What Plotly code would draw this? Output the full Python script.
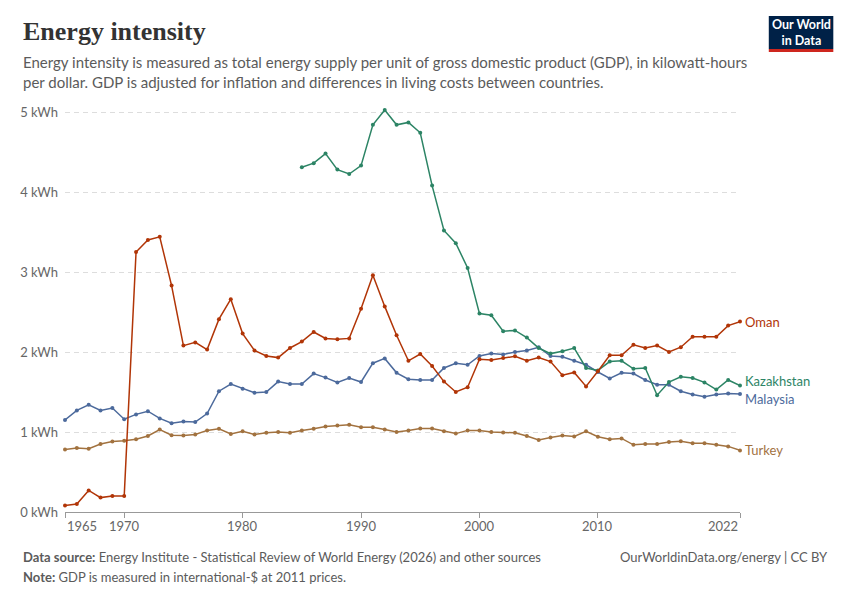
import plotly.graph_objects as go

# Energy intensity, kWh per dollar
years = list(range(1965, 2023))
kaz_years = list(range(1985, 2023))

oman = [0.08, 0.10, 0.27, 0.18, 0.20, 0.20, 3.25, 3.40, 3.44, 2.83,
        2.08, 2.12, 2.03, 2.41, 2.66, 2.23, 2.02, 1.95, 1.93, 2.05,
        2.13, 2.25, 2.17, 2.16, 2.17, 2.54, 2.96, 2.57, 2.21, 1.89,
        1.975, 1.825, 1.63, 1.50, 1.56, 1.91, 1.90, 1.925, 1.946, 1.89,
        1.93, 1.88, 1.71, 1.745, 1.57, 1.76, 1.96, 1.96, 2.09, 2.05,
        2.08, 2.00, 2.06, 2.19, 2.19, 2.19, 2.33, 2.38]
malaysia = [1.15, 1.27, 1.34, 1.27, 1.30, 1.16, 1.22, 1.26, 1.17, 1.11,
            1.13, 1.125, 1.23, 1.51, 1.60, 1.54, 1.49, 1.50, 1.63, 1.60,
            1.60, 1.73, 1.68, 1.62, 1.675, 1.625, 1.86, 1.92, 1.74, 1.66,
            1.65, 1.65, 1.80, 1.86, 1.84, 1.95, 1.98, 1.97, 2.00, 2.02,
            2.06, 1.95, 1.94, 1.89, 1.84, 1.75, 1.67, 1.74, 1.73, 1.65,
            1.59, 1.59, 1.51, 1.47, 1.44, 1.47, 1.48, 1.475]
turkey = [0.78, 0.80, 0.79, 0.85, 0.88, 0.89, 0.91, 0.95, 1.03, 0.96,
          0.955, 0.97, 1.02, 1.04, 0.975, 1.01, 0.97, 0.99, 1.00, 0.99,
          1.02, 1.04, 1.07, 1.08, 1.09, 1.06, 1.06, 1.03, 1.00, 1.02,
          1.045, 1.045, 1.01, 0.98, 1.02, 1.02, 1.00, 0.995, 0.99, 0.95,
          0.90, 0.93, 0.955, 0.945, 1.01, 0.94, 0.91, 0.92, 0.84, 0.85,
          0.85, 0.875, 0.885, 0.86, 0.86, 0.84, 0.82, 0.77]
kazakhstan = [4.31, 4.36, 4.48, 4.28, 4.225, 4.33, 4.84, 5.025, 4.84, 4.87,
              4.74, 4.08, 3.52, 3.36, 3.05, 2.48, 2.46, 2.26, 2.27, 2.18,
              2.05, 1.98, 2.01, 2.05, 1.80, 1.77, 1.88, 1.89, 1.79, 1.80,
              1.46, 1.625, 1.69, 1.675, 1.62, 1.53, 1.65, 1.58]

y_ticks = [0, 1, 2, 3, 4, 5]
y_tick_text = ["0 kWh", "1 kWh", "2 kWh", "3 kWh", "4 kWh", "5 kWh"]
x_ticks = [1965, 1970, 1980, 1990, 2000, 2010, 2022]
x_tick_text = ["1965", "1970", "1980", "1990", "2000", "2010", "2022"]

# name, x, y, colour, label nudge (px)
series = [
    ("Turkey", years, turkey, "#A2723F", 0),
    ("Malaysia", years, malaysia, "#4C6A9C", -5),
    ("Kazakhstan", kaz_years, kazakhstan, "#2C8465", 5),
    ("Oman", years, oman, "#B13507", 0),
]

# the page body has an 8px margin, so lay things out in window pixels minus 8
OFF = 8
W, H = 850 - OFF, 600 - OFF
L, R, T, B = 60 - OFF, 740 - OFF, 104 - OFF, 512 - OFF


def px(x):
    return (x - OFF - L) / (R - L)


def py(y):
    return (B - (y - OFF)) / (B - T)


fig = go.Figure()
annotations = []

for name, xs, ys, color, nudge in series:
    fig.add_trace(go.Scatter(
        x=xs, y=ys, mode="lines+markers", name=name,
        line=dict(color=color, width=1.5),
        marker=dict(color=color, size=4),
        cliponaxis=False, showlegend=False
    ))
    annotations.append(dict(
        x=px(743), xref="paper", y=ys[-1], yref="y", yshift=nudge,
        text=name, showarrow=False, xanchor="left", yanchor="middle",
        font=dict(size=13, color=color)
    ))

# x tick labels (ends aligned to the ticks like the original)
for val, lab in zip(x_ticks, x_tick_text):
    anchor = "left" if val == x_ticks[0] else ("right" if val == x_ticks[-1] else "center")
    annotations.append(dict(
        x=val, xref="x", y=py(526), yref="paper", text=lab, showarrow=False,
        xanchor=anchor, yanchor="middle", font=dict(size=13, color="#666666")
    ))

# header
annotations.append(dict(
    x=px(16), xref="paper", y=py(32), yref="paper", text="<b>Energy intensity</b>",
    showarrow=False, xanchor="left", yanchor="middle",
    font=dict(family="Liberation Serif", size=26, color="#333333")
))
annotations.append(dict(
    x=px(16), xref="paper", y=py(51), yref="paper",
    text="Energy intensity is measured as total energy supply per unit of gross domestic product (GDP), in kilowatt-hours"
         "<br>per dollar. GDP is adjusted for inflation and differences in living costs between countries.",
    showarrow=False, xanchor="left", yanchor="top", align="left",
    font=dict(size=15, color="#5b5b5b")
))

# footer
annotations.append(dict(
    x=px(16), xref="paper", y=py(557), yref="paper",
    text="<b>Data source:</b> Energy Institute - Statistical Review of World Energy (2026) and other sources",
    showarrow=False, xanchor="left", yanchor="middle", font=dict(size=13, color="#5b5b5b")
))
annotations.append(dict(
    x=px(16), xref="paper", y=py(577), yref="paper",
    text="<b>Note:</b> GDP is measured in international-$ at 2011 prices.",
    showarrow=False, xanchor="left", yanchor="middle", font=dict(size=13, color="#5b5b5b")
))
annotations.append(dict(
    x=px(831), xref="paper", y=py(557), yref="paper",
    text="OurWorldinData.org/energy | CC BY",
    showarrow=False, xanchor="right", yanchor="middle", font=dict(size=13, color="#5b5b5b")
))

# logo
annotations.append(dict(
    x=px(801.5), xref="paper", y=py(33), yref="paper",
    text="<b>Our World<br>in Data</b>", showarrow=False,
    xanchor="center", yanchor="middle", align="center",
    font=dict(size=12.5, color="white")
))

shapes = [
    dict(type="rect", xref="paper", yref="paper", x0=px(769), x1=px(834),
         y0=py(49), y1=py(16), fillcolor="#002147", line=dict(width=0), layer="below"),
    dict(type="rect", xref="paper", yref="paper", x0=px(769), x1=px(834),
         y0=py(52), y1=py(49), fillcolor="#CE261E", line=dict(width=0), layer="below"),
]

fig.update_layout(
    width=W, height=H,
    margin=dict(l=L, r=W - R, t=T, b=H - B),
    paper_bgcolor="white", plot_bgcolor="white",
    font=dict(family="Lato", size=13, color="#666666"),
    annotations=annotations, shapes=shapes,
    xaxis=dict(
        range=[1965, 2022], tickvals=x_ticks, showticklabels=False,
        showgrid=False, zeroline=False, showline=True, linecolor="#999999",
        linewidth=1, ticks="outside", ticklen=5, tickcolor="#999999"
    ),
    yaxis=dict(
        range=[0, 5.1], tickvals=y_ticks, ticktext=y_tick_text,
        showgrid=True, gridcolor="#dddddd", griddash="5px,4px", gridwidth=1,
        zeroline=False, ticks="", ticklabelstandoff=6,
        tickfont=dict(size=13, color="#666666")
    ),
)

fig.write_html("out.html")
